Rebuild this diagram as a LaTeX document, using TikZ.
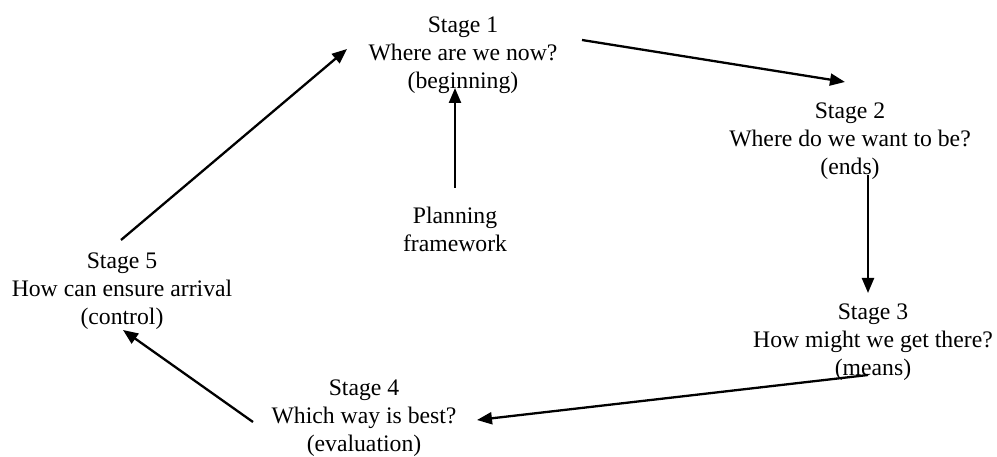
\documentclass[tikz,border=0pt]{standalone}
\usepackage{fontspec}
\setmainfont{Liberation Serif}
\usetikzlibrary{arrows.meta,calc}
\begin{document}
\begin{tikzpicture}[x=1pt,y=-1pt,
  stage/.style={align=center,inner sep=0pt,font=\fontsize{23.7}{28}\selectfont},
  arr/.style={line width=2.3pt,-{Triangle[length=15pt,width=12pt]}}]
\useasboundingbox (0,0) rectangle (997,457);
\node[stage] (s1) at (463,55) {Stage 1\\Where are we now?\\(beginning)};
\node[stage] (s2) at (850,141) {Stage 2\\Where do we want to be?\\(ends)};
\node[stage] (s3) at (873,342) {Stage 3\\How might we get there?\\(means)};
\node[stage] (s4) at (364,418) {Stage 4\\Which way is best?\\(evaluation)};
\node[stage] (s5) at (122,291) {Stage 5\\How can ensure arrival\\(control)};
\node[stage] (pf) at (455,229) {Planning\\framework};
\draw[arr] ($(s1)+(119,-15)$) -- ($(s2)+(-5,-59)$);
\draw[arr] ($(s2)+(18,34)$) -- ($(s3)+(-5,-49)$);
\draw[arr] ($(s3)+(-5,33)$) -- ($(s4)+(113,2)$);
\draw[arr] ($(s4)+(-111,4)$) -- ($(s5)+(1,39)$);
\draw[arr] ($(s5)+(-1,-51)$) -- ($(s1)+(-116,-6)$);
\draw[arr] ($(pf)+(0,-41)$) -- ($(s1)+(-8,33)$);
\end{tikzpicture}
\end{document}
